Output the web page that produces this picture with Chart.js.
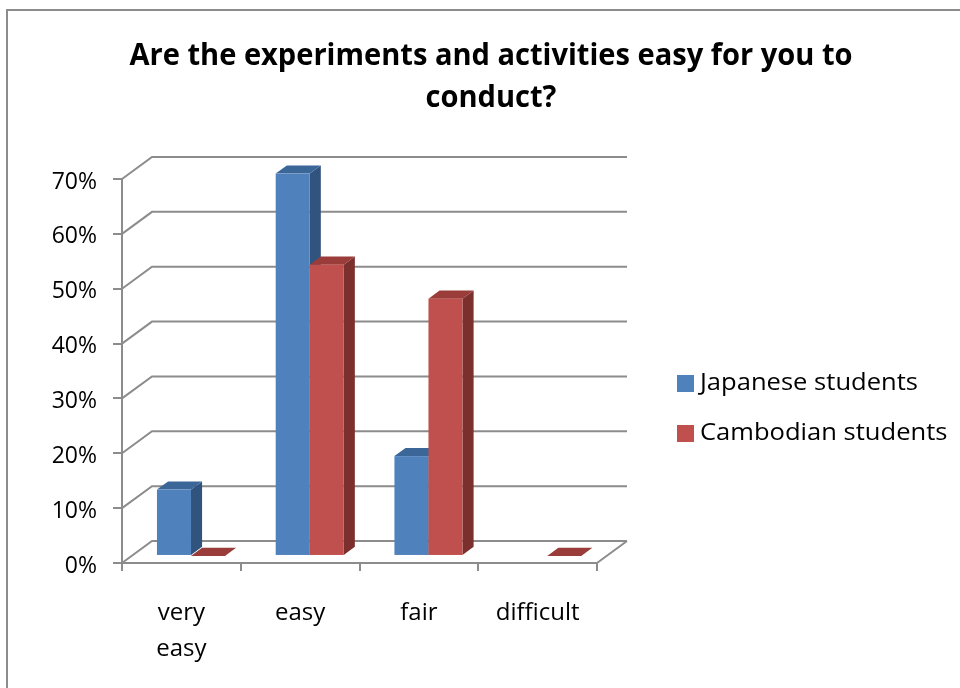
<!DOCTYPE html>
<html>
<head>
<meta charset="utf-8">
<script src="https://cdn.jsdelivr.net/npm/chart.js@4.4.1/dist/chart.umd.min.js"></script>
<style>
  html, body { margin: 0; padding: 0; background: #fff; overflow: hidden; }
  #frame { position: absolute; left: 6px; top: 9px; width: 1000px; height: 720px;
           border: 2px solid #8c8c8c; box-sizing: border-box; }
  #wrap { position: absolute; left: 0; top: 0; width: 960px; height: 688px; }
</style>
</head>
<body>
<div id="frame"></div>
<div id="wrap"><canvas id="chart" width="960" height="688"></canvas></div>
<script>
// survey answers, share of students (%); null = no answer recorded
const categories = [['very', 'easy'], 'easy', 'fair', 'difficult'];
const japanese = [12.1, 69.7, 18.2, null];
const cambodian = [0, 53.1, 46.9, 0];
const seriesNames = ['Japanese students', 'Cambodian students'];

const titleLines = ['Are the experiments and activities easy for you to', 'conduct?'];

// face colours per series: front, top, side
const FRONT = ['#4f81bd', '#c0504d'];
const TOP   = ['#3b6698', '#9a3c3a'];
const SIDE  = ['#31547f', '#7b302e'];

const GRID = '#8c8c8c';
const FONT = '"Open Sans", "DejaVu Sans", sans-serif';

// floor / wall depth and where the boxes sit inside it
const DX = 30, DY = -22;
const BAR_OFF = 0.32, BAR_DEPTH = 0.37;

function drawBox(ctx, el, i) {
  const half = el.width / 2;
  const fx = DX * BAR_OFF, fy = DY * BAR_OFF;
  const dx = DX * BAR_DEPTH, dy = DY * BAR_DEPTH;
  const x1 = el.x - half + fx, x2 = el.x + half + fx;
  const yt = Math.min(el.y, el.base) + fy, yb = Math.max(el.y, el.base) + fy;

  ctx.fillStyle = SIDE[i];
  ctx.beginPath();
  ctx.moveTo(x2, yt); ctx.lineTo(x2 + dx, yt + dy);
  ctx.lineTo(x2 + dx, yb + dy); ctx.lineTo(x2, yb);
  ctx.closePath(); ctx.fill();

  ctx.fillStyle = TOP[i];
  ctx.beginPath();
  ctx.moveTo(x1, yt); ctx.lineTo(x2, yt);
  ctx.lineTo(x2 + dx, yt + dy); ctx.lineTo(x1 + dx, yt + dy);
  ctx.closePath(); ctx.fill();

  if (yb - yt > 0.5) {
    ctx.fillStyle = FRONT[i];
    ctx.fillRect(x1, yt, x2 - x1, yb - yt);
  }
}

function scaledText(ctx, text, x, y, sx) {
  ctx.save();
  ctx.translate(x, y);
  ctx.scale(sx, 1);
  ctx.fillText(text, 0, 0);
  ctx.restore();
}

const depth3d = {
  id: 'depth3d',
  beforeDatasetsDraw(chart) {
    const { ctx, chartArea: a, scales: { y } } = chart;
    ctx.save();
    ctx.strokeStyle = GRID;
    ctx.lineWidth = 2;
    ctx.beginPath();
    y.ticks.forEach(t => {
      const py = y.getPixelForValue(t.value);
      ctx.moveTo(a.left, py);
      ctx.lineTo(a.left + DX, py + DY);
      ctx.lineTo(a.right + DX, py + DY);
    });
    ctx.moveTo(a.right, a.bottom);
    ctx.lineTo(a.right + DX, a.bottom + DY);
    ctx.stroke();
    ctx.restore();
  },
  // flat bars are replaced by the boxes below
  beforeDatasetDraw() { return false; },
  afterDatasetsDraw(chart) {
    const ctx = chart.ctx;
    ctx.save();
    chart.data.datasets.forEach((ds, i) => {
      chart.getDatasetMeta(i).data.forEach((el, j) => {
        if (ds.data[j] !== null) drawBox(ctx, el, i);
      });
    });
    ctx.restore();
  },
  afterDraw(chart) {
    const ctx = chart.ctx;
    ctx.save();
    ctx.fillStyle = '#000';
    ctx.textBaseline = 'middle';

    // title
    ctx.font = 'bold 30px ' + FONT;
    ctx.textAlign = 'center';
    const sx = 723 / ctx.measureText(titleLines[0]).width;
    titleLines.forEach((line, k) => scaledText(ctx, line, 491, 56 + k * 42, sx));

    // legend
    ctx.font = '24px ' + FONT;
    ctx.textAlign = 'left';
    const lx = 218 / ctx.measureText(seriesNames[0]).width;
    chart.data.datasets.forEach((ds, i) => {
      const cy = 383 + i * 50;
      ctx.fillStyle = FRONT[i];
      ctx.fillRect(677, cy - 8, 17, 17);
      ctx.fillStyle = '#000';
      scaledText(ctx, ds.label, 700, cy, lx);
    });
    ctx.restore();
  }
};

document.fonts.load('bold 30px "Open Sans"').then(() => {
  new Chart(document.getElementById('chart'), {
    type: 'bar',
    data: {
      labels: categories,
      datasets: [
        { label: seriesNames[0], data: japanese, backgroundColor: FRONT[0] },
        { label: seriesNames[1], data: cambodian, backgroundColor: FRONT[1] }
      ]
    },
    options: {
      responsive: false,
      animation: false,
      categoryPercentage: 0.573,
      barPercentage: 1,
      layout: { padding: { top: 179, right: 363, bottom: 0, left: 0 } },
      plugins: {
        legend: { display: false },
        title: { display: false },
        tooltip: { enabled: false }
      },
      scales: {
        x: {
          grid: { drawOnChartArea: false, drawTicks: true, tickLength: 8, color: GRID, lineWidth: 2, offset: true },
          border: { display: true, color: GRID, width: 2 },
          ticks: { color: '#000', font: { family: FONT, size: 24, lineHeight: 1.5 }, padding: 24,
                   maxRotation: 0, autoSkip: false },
          afterFit(s) { s.height = 125; }
        },
        y: {
          min: 0,
          max: 70,
          grid: { drawOnChartArea: false, drawTicks: true, tickLength: 9, color: GRID, lineWidth: 2 },
          border: { display: true, color: GRID, width: 2 },
          ticks: { stepSize: 10, color: '#000', font: { family: FONT, size: 23 }, padding: 16,
                   labelOffset: 3, callback: v => v + '%' },
          afterFit(s) { s.width = 122; }
        }
      }
    },
    plugins: [depth3d]
  });
});
</script>
</body>
</html>
